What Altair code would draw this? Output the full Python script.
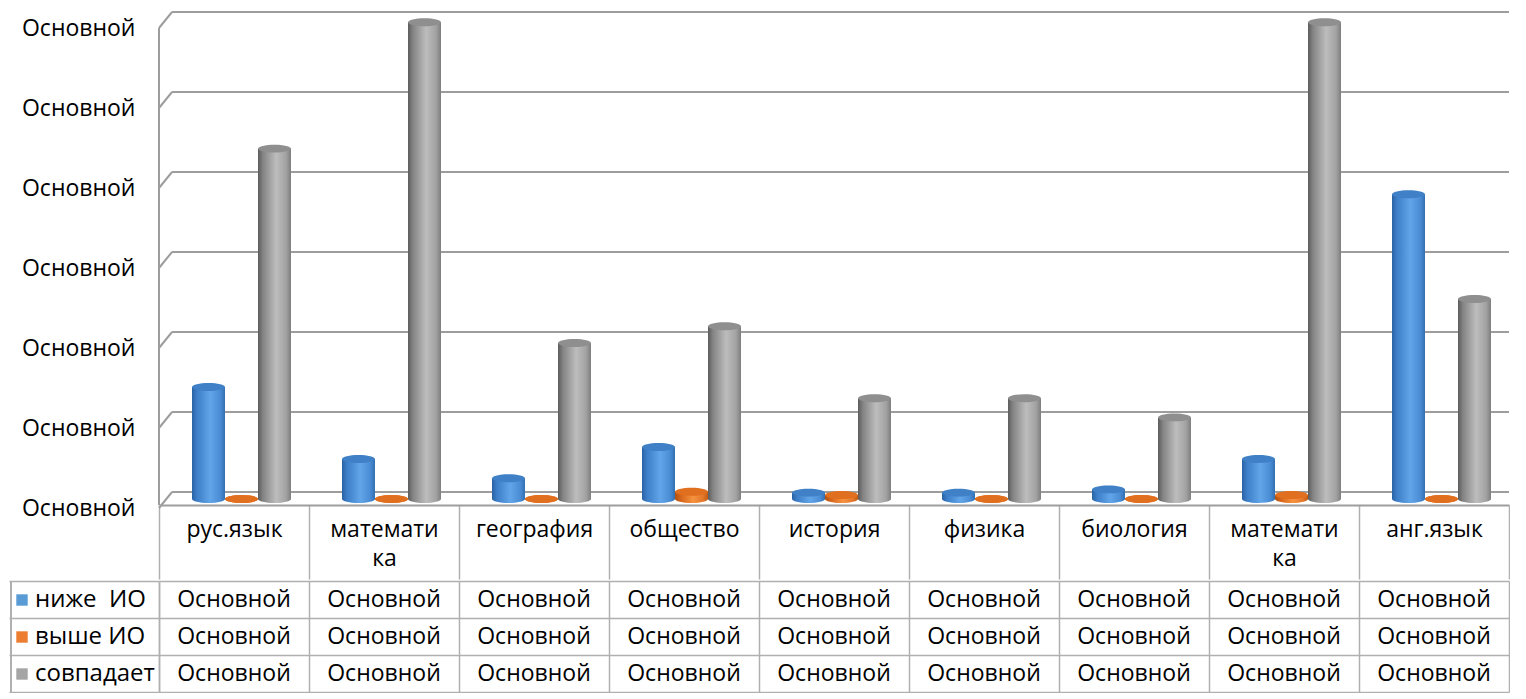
import json
import altair as alt
import pandas as pd

# ---------------- data ----------------
cat_ids = ["c1", "c2", "c3", "c4", "c5", "c6", "c7", "c8", "c9"]
categories = ["рус.язык", "математика", "география", "общество", "история",
              "физика", "биология", "математика", "анг.язык"]
cat_lines = [["рус.язык"], ["математи", "ка"], ["география"], ["общество"], ["история"],
             ["физика"], ["биология"], ["математи", "ка"], ["анг.язык"]]
series = ["ниже\u00a0 ИО", "выше ИО", "совпадает"]
below = [1.40, 0.50, 0.26, 0.65, 0.08, 0.08, 0.12, 0.50, 3.81]
above = [0.00, 0.00, 0.00, 0.09, 0.05, 0.00, 0.00, 0.05, 0.00]
match = [4.38, 5.96, 1.95, 2.16, 1.26, 1.26, 1.02, 5.96, 2.50]
ticks = [0, 1, 2, 3, 4, 5, 6]
tick_label = "Основной"
cell_text = "Основной"

# ---------------- styling ----------------
FONT = "Open Sans"
FS = 23
W = 1350
H1 = 497
EXT = 150
ROW = 37
GRID = "#9d9d9d"
TABLE = "#b0b0b0"

def grad(stops):
    return alt.Gradient(gradient="linear", x1=0, x2=1, y1=0, y2=0,
                        stops=[alt.GradientStop(offset=o, color=c) for o, c in stops])

styles = {
    series[0]: dict(body=grad([(0, "#2a62a3"), (0.15, "#3c7ec8"), (0.55, "#62a5e8"), (0.85, "#4b8dd5"), (1, "#326fb3")]),
                    cap="#3f80c6", legend="#5b9bd5"),
    series[1]: dict(body=grad([(0, "#b0500f"), (0.2, "#d9681d"), (0.55, "#f5923f"), (0.85, "#e3772a"), (1, "#c05a14")]),
                    cap="#e0701f", legend="#ed7d31"),
    series[2]: dict(body=grad([(0, "#5c5c5c"), (0.15, "#848484"), (0.55, "#bdbdbd"), (0.85, "#a2a2a2"), (1, "#7e7e7e")]),
                    cap="#8f8f8f", legend="#a5a5a5"),
}

rows = []
for s, vals in zip(series, [below, above, match]):
    for cid, v in zip(cat_ids, vals):
        rows.append({"cat": cid, "series": s, "value": v})
bars_df = pd.DataFrame(rows)
ticks_df = pd.DataFrame({"value": ticks})

label_expr = f"{json.dumps(cat_lines, ensure_ascii=False)}[indexof({json.dumps(cat_ids)}, datum.value)]"

yscale = alt.Scale(domain=[-0.075, 6.1375], nice=False, zero=False)
yaxis = alt.Axis(values=ticks, labelExpr=json.dumps(tick_label, ensure_ascii=False), grid=False,
                 ticks=False, domain=False, labelPadding=24, labelOffset=9, labelFont=FONT,
                 labelFontSize=FS, labelColor="black", minExtent=EXT, maxExtent=EXT, title=None)
xscale = alt.Scale(domain=cat_ids, paddingInner=0, paddingOuter=0)
xaxis = alt.Axis(labelExpr=label_expr, tickBand="extent", tickSize=74, tickColor=TABLE,
                 tickWidth=1.5, domainColor=GRID, domainWidth=2, labelPadding=-61,
                 labelLineHeight=29, labelFont=FONT, labelFontSize=FS, labelAngle=0,
                 labelColor="black", labelBaseline="top", labelOverlap=False, labelLimit=300,
                 grid=False, title=None)
offscale = alt.Scale(domain=series, range=[33, 132], paddingInner=0, paddingOuter=0)

Y = alt.Y("value:Q", scale=yscale, axis=yaxis)

grid_rules = alt.Chart(ticks_df).mark_rule(yOffset=-7, color=GRID, strokeWidth=2).encode(
    y=Y, x=alt.value(13), x2=alt.value(W))
diag_rules = alt.Chart(ticks_df).mark_rule(yOffset=9, y2Offset=-7, color=GRID, strokeWidth=2).encode(
    y=Y, y2=alt.Y2("value"), x=alt.value(0), x2=alt.value(13))
wall = alt.Chart(ticks_df).mark_rule(color=GRID, strokeWidth=2, yOffset=9).encode(
    y=alt.Y("max(value):Q", scale=yscale, axis=yaxis), y2=alt.value(H1), x=alt.value(0))

ELL = "M-1,0A1,0.24,0,1,1,1,0A1,0.24,0,1,1,-1,0Z"
BW = 33

layers = [grid_rules, diag_rules, wall]
for s in series:
    st = styles[s]
    base = alt.Chart(bars_df).transform_filter(alt.datum.series == s)
    enc = dict(x=alt.X("cat:N", scale=xscale, axis=xaxis),
               xOffset=alt.XOffset("series:N", scale=offscale))
    bottom = base.mark_point(shape=ELL, filled=True, size=BW * BW, fill=st["body"],
                             strokeWidth=0, opacity=1).encode(
        y=alt.Y("zero:Q", scale=yscale, axis=yaxis), **enc).transform_calculate(zero="0")
    body = base.mark_bar(fill=st["body"], strokeWidth=0).encode(y=Y, **enc)
    top = base.mark_point(shape=ELL, filled=True, size=BW * BW, fill=st["cap"],
                          strokeWidth=0, opacity=1).encode(y=Y, **enc)
    layers += [bottom, body, top]

top_chart = alt.layer(*layers).properties(width=W, height=H1)

# ---------------- data table ----------------
cells = pd.DataFrame([{"cat": c, "series": s, "txt": cell_text} for s in series for c in cat_ids])

tx = alt.X("cat:N", scale=xscale,
           axis=alt.Axis(labels=False, ticks=False, domain=False, grid=True, gridColor=TABLE,
                         gridWidth=1.5, tickBand="extent", title=None))
ty = alt.Y("series:N", scale=alt.Scale(domain=series, paddingInner=0, paddingOuter=0),
           axis=alt.Axis(labels=False, tickBand="extent", tickSize=EXT, tickColor=TABLE,
                         tickWidth=1.5, grid=True, gridColor=TABLE, gridWidth=1.5,
                         domain=True, domainColor=TABLE, domainWidth=1.5,
                         minExtent=EXT, maxExtent=EXT, title=None))

text_layer = alt.Chart(cells).mark_text(font=FONT, fontSize=FS, color="black").encode(
    x=tx, y=ty, text="txt:N")
legend_layer = alt.Chart(cells).mark_square(opacity=0, size=121).encode(
    x=tx, y=ty,
    color=alt.Color("series:N",
                    scale=alt.Scale(domain=series, range=[styles[s]["legend"] for s in series]),
                    legend=alt.Legend(orient="none", legendX=-149, legendY=7, title=None,
                                      symbolType="square", symbolSize=130, symbolOpacity=1,
                                      symbolStrokeWidth=0, labelFont=FONT, labelFontSize=24,
                                      labelColor="black", labelOffset=1, rowPadding=13,
                                      labelLimit=200)))
left_border = alt.Chart(cells).mark_rule(color=TABLE, strokeWidth=1.5).encode(
    x=alt.value(-EXT + 2), y=alt.value(0), y2=alt.value(3 * ROW))

table_chart = alt.layer(left_border, legend_layer, text_layer).properties(width=W, height=3 * ROW)

chart = alt.vconcat(top_chart, table_chart, spacing=0).resolve_scale(
    color="independent").resolve_legend(color="independent").properties(
    padding=0, background="white"
).configure_view(stroke=None)

chart.save("out.html", embed_options={"renderer": "svg", "actions": False})
